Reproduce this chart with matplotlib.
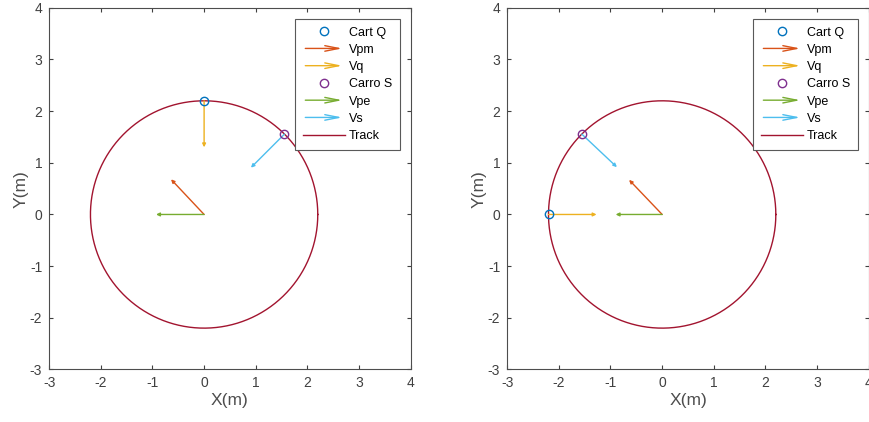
import numpy as np
import matplotlib
matplotlib.use("Agg")
import matplotlib.pyplot as plt
from matplotlib.patches import FancyArrowPatch
from matplotlib.legend_handler import HandlerPatch
from matplotlib.lines import Line2D

plt.rcParams["font.family"] = ["Liberation Sans", "DejaVu Sans"]
plt.rcParams["axes.unicode_minus"] = False

# MATLAB-like default colours
c_q = (0.0, 0.447, 0.741)
c_vpm = (0.85, 0.325, 0.098)
c_vq = (0.929, 0.694, 0.125)
c_s = (0.494, 0.184, 0.556)
c_vpe = (0.466, 0.674, 0.188)
c_vs = (0.301, 0.745, 0.933)
c_track = (0.635, 0.078, 0.184)

track_radius = 2.2

# panel data: cart Q position, Vq vector, cart S position, Vs vector, Vpm, Vpe
cart_q = [(0.0, 2.2), (-2.2, 0.0)]
vq = [(0.0, -0.9), (0.93, 0.0)]
carro_s = [(1.556, 1.556), (-1.556, 1.556)]
vs = [(-0.65, -0.65), (0.68, -0.64)]
vpm = [(-0.64, 0.68), (-0.64, 0.67)]
vpe = [(-0.93, 0.0), (-0.9, 0.0)]

labels = ["Cart Q", "Vpm", "Vq", "Carro S", "Vpe", "Vs", "Track"]
tick_vals = [-3, -2, -1, 0, 1, 2, 3, 4]


class ArrowProxy(FancyArrowPatch):
    pass


def make_legend_arrow(legend, orig_handle, xdescent, ydescent, width, height, fontsize):
    p = FancyArrowPatch((-xdescent, height / 2 - ydescent), (width - xdescent, height / 2 - ydescent),
                        arrowstyle="->,head_length=1.0,head_width=0.2", mutation_scale=10, lw=1.0,
                        color=orig_handle.get_edgecolor())
    return p


def arrow(ax, start, vec, color):
    ax.annotate("", xy=(start[0] + vec[0], start[1] + vec[1]), xytext=start,
                arrowprops=dict(arrowstyle="-|>", color=color, lw=1.0,
                                mutation_scale=5, shrinkA=0, shrinkB=0))


fig = plt.figure(figsize=(8.7, 4.22), dpi=100)
positions = [[0.0563, 0.1245, 0.416, 0.857], [0.5828, 0.1245, 0.416, 0.857]]

for i in range(2):
    ax = fig.add_axes(positions[i])
    t = np.linspace(0, 2 * np.pi, 400)
    ax.plot(track_radius * np.cos(t), track_radius * np.sin(t), color=c_track, lw=1.0, zorder=2)

    arrow(ax, (0, 0), vpm[i], c_vpm)
    arrow(ax, cart_q[i], vq[i], c_vq)
    arrow(ax, (0, 0), vpe[i], c_vpe)
    arrow(ax, carro_s[i], vs[i], c_vs)

    ax.plot(*cart_q[i], "o", mfc="none", mec=c_q, ms=6, mew=1.0, zorder=4)
    ax.plot(*carro_s[i], "o", mfc="none", mec=c_s, ms=6, mew=1.0, zorder=4)

    ax.set_xlim(-3, 4)
    ax.set_ylim(-3, 4)
    ax.set_aspect("equal")
    ax.set_xticks(tick_vals)
    ax.set_yticks(tick_vals)
    ax.tick_params(direction="in", top=True, right=True, length=3, width=0.8,
                   labelsize=10, colors="0.25", pad=5)
    for sp in ax.spines.values():
        sp.set_color("0.3")
        sp.set_linewidth(0.8)
    ax.set_xlabel("X(m)", fontsize=12.5, color="0.3", labelpad=2)
    ax.set_ylabel("Y(m)", fontsize=12.5, color="0.3", labelpad=1)

    handles = [
        Line2D([], [], ls="none", marker="o", mfc="none", mec=c_q, ms=6),
        ArrowProxy((0, 0), (1, 0), color=c_vpm),
        ArrowProxy((0, 0), (1, 0), color=c_vq),
        Line2D([], [], ls="none", marker="o", mfc="none", mec=c_s, ms=6),
        ArrowProxy((0, 0), (1, 0), color=c_vpe),
        ArrowProxy((0, 0), (1, 0), color=c_vs),
        Line2D([], [], color=c_track, lw=1.0),
    ]
    leg = ax.legend(handles, labels, loc="upper right", fontsize=9,
                    handlelength=3.4, handletextpad=0.3, labelspacing=0.42,
                    borderaxespad=0.9, borderpad=0.6, fancybox=False, framealpha=1,
                    edgecolor="0.35",
                    handler_map={ArrowProxy: HandlerPatch(patch_func=make_legend_arrow)})
    leg.get_frame().set_linewidth(0.8)

fig.savefig("out.png", dpi=100)
